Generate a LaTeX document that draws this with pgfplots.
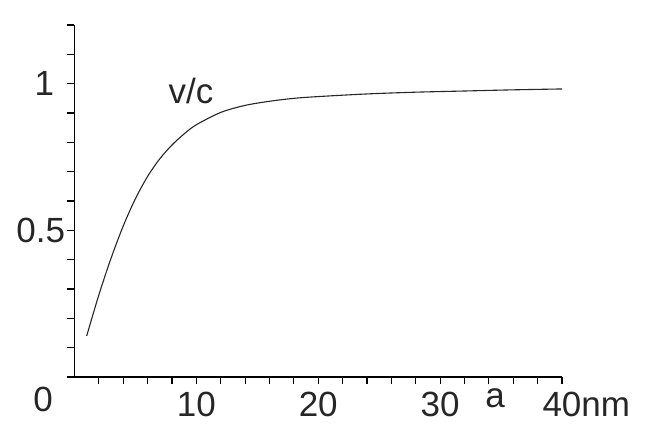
\documentclass[border=0pt]{standalone}
\usepackage{pgfplots}
\pgfplotsset{compat=1.18}
\usepackage{fontspec}
\setmainfont{Liberation Sans}
\pgfplotstableread{
x y
1.0 0.140
2.0 0.280
3.0 0.405
4.0 0.515
5.0 0.608
6.0 0.684
7.0 0.744
8.0 0.791
9.0 0.829
10.0 0.860
12.0 0.902
14.0 0.926
16.0 0.940
18.0 0.950
20.0 0.956
24.0 0.965
28.0 0.971
32.0 0.975
36.0 0.979
40.0 0.982
}\curve
\begin{document}
\begin{tikzpicture}
\useasboundingbox (-37.25pt,-32pt) rectangle (289.75pt,188.5pt);
\begin{axis}[
  at={(0,0)}, anchor=south west,
  scale only axis, width=243.75pt, height=176pt,
  xmin=0, xmax=40, ymin=0, ymax=1.2,
  axis lines=left, axis line style={-, line width=0.8pt, black},
  tick align=outside,
  major tick length=3.5pt, minor tick length=3.5pt,
  every tick/.style={black, line width=0.6pt},
  xtick={10,20,30,40}, xticklabels={10,20,30,40\rlap{nm}},
  minor xtick={2,4,6,8,12,14,16,18,22,24,26,28,32,34,36,38},
  ytick={0.5,1}, yticklabels={0.5,1\rule{5.5pt}{0pt}},
  minor ytick={0.1,0.2,0.3,0.4,0.6,0.7,0.8,0.9,1.1,1.2},
  tick label style={font=\fontsize{17.5}{20}\selectfont, text=black!85},
  xticklabel style={inner sep=1pt, yshift=-3pt},
  yticklabel style={inner xsep=1pt},
  clip=false,
]
\addplot[black!85, line width=0.55pt, smooth] table[x=x,y=y] {\curve};
\draw[line width=0.8pt] (axis cs:0,0) -- ++(-3.5pt,0);
\node[font=\fontsize{17.5}{20}\selectfont, text=black!85] at (axis cs:0,0) [xshift=-15.75pt, yshift=-11pt] {0};
\node[font=\fontsize{17.5}{20}\selectfont, text=black!85] at (axis cs:0,0) [xshift=210.25pt, yshift=-10.5pt] {a};
\node[font=\fontsize{17.5}{20}\selectfont, text=black!85, anchor=base] at (axis cs:9.55,0) [yshift=136.9pt] {v/c};
\end{axis}
\end{tikzpicture}
\end{document}
